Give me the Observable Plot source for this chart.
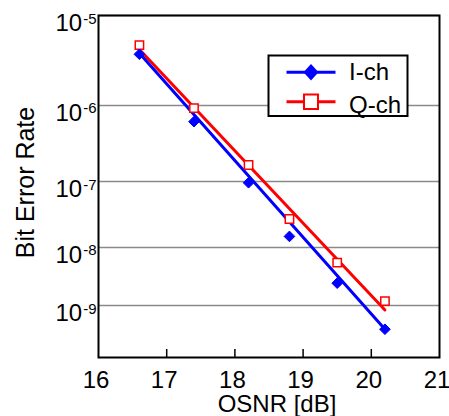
<!DOCTYPE html>
<html>
<head>
<meta charset="utf-8">
<script src="https://cdn.jsdelivr.net/npm/d3@7"></script>
<script src="https://cdn.jsdelivr.net/npm/@observablehq/plot@0.6"></script>
<style>
  html, body { margin: 0; padding: 0; background: #fff; }
  #wrap { position: relative; width: 449px; height: 416px; font-family: "Liberation Sans", Arial, sans-serif; }
  #legend { position: absolute; left: 0; top: 0; pointer-events: none; }
</style>
</head>
<body>
<div id="wrap"></div>
<script>
// ---- data ----
const osnr = [16.6, 17.4, 18.2, 18.8, 19.5, 20.2];
const berI = [3.9e-6, 6.3e-7, 9.6e-8, 1.5e-8, 2.5e-9, 3.6e-10];
const berQ = [4.9e-6, 9.3e-7, 1.7e-7, 2.8e-8, 5.6e-9, 1.2e-9];
const fitX = [16.6, 20.2];
const fitI = [4.0e-6, 3.6e-10];
const fitQ = [4.4e-6, 8.3e-10];
const xTicks = [16, 17, 18, 19, 20, 21];
const yExps = [5, 6, 7, 8, 9];
const seriesNames = ["I-ch", "Q-ch"];

// BER axis scaled as log10(-log10(BER))
const f = b => Math.log10(-Math.log10(b));

const ptsI = osnr.map((x, i) => ({x, ber: berI[i]}));
const ptsQ = osnr.map((x, i) => ({x, ber: berQ[i]}));
const lineI = fitX.map((x, i) => ({x, ber: fitI[i]}));
const lineQ = fitX.map((x, i) => ({x, ber: fitQ[i]}));

const W = 449, H = 416, mT = 15, mR = 10, mB = 59, mL = 98;
const font = '"Liberation Sans", Arial, sans-serif';

const chart = Plot.plot({
  width: W, height: H,
  marginTop: mT, marginRight: mR, marginBottom: mB, marginLeft: mL,
  style: { fontFamily: font, background: "white", color: "black" },
  x: { domain: [16, 21], axis: null },
  y: { domain: [f(1e-10), f(1e-5)], axis: null },
  marks: [
    Plot.gridY(yExps.map(e => f(Math.pow(10, -e))), { stroke: "#8a8a8a", strokeOpacity: 1, strokeWidth: 1.5 }),
    Plot.ruleX(xTicks.slice(1, -1), { stroke: "black", strokeWidth: 1.5, insetTop: (H - mT - mB) - 8 }),
    Plot.line(lineQ, { x: "x", y: d => f(d.ber), stroke: "#ff0000", strokeWidth: 3 }),
    Plot.line(lineI, { x: "x", y: d => f(d.ber), stroke: "#0000ff", strokeWidth: 3 }),
    Plot.dot(ptsQ, { x: "x", y: d => f(d.ber), symbol: "square", r: 4.7, stroke: "#ff0000", fill: "white", strokeWidth: 1.5 }),
    Plot.dot(ptsI, { x: "x", y: d => f(d.ber), symbol: "diamond2", r: 4.8, fill: "#0000ff", stroke: "#0000ff", strokeWidth: 1 }),
    Plot.frame({ stroke: "black", strokeWidth: 2 }),
    Plot.axisX(xTicks, { tickSize: 0, tickPadding: 13, fontSize: 24, dx: -2.5, label: null, tickFormat: d => String(d) }),
    Plot.text(yExps, { y: e => f(Math.pow(10, -e)), text: () => "10", frameAnchor: "left", textAnchor: "end", lineAnchor: "bottom", dx: -16.3, dy: 15.5, fontSize: 24, fill: "black" }),
    Plot.text(yExps, { y: e => f(Math.pow(10, -e)), text: e => "-" + e, frameAnchor: "left", textAnchor: "end", lineAnchor: "bottom", dx: -2, dy: 8, fontSize: 15, fill: "black" }),
    Plot.text(["OSNR [dB]"], { frameAnchor: "bottom", lineAnchor: "bottom", dx: 8, dy: 54.5, fontSize: 24, fill: "black" }),
    Plot.text(["Bit Error Rate"], { frameAnchor: "left", textAnchor: "middle", lineAnchor: "bottom", rotate: -90, dx: -65, dy: -4, fontSize: 25, fill: "black" })
  ]
});

const wrap = document.getElementById("wrap");
wrap.appendChild(chart);

// legend overlay
const ns = "http://www.w3.org/2000/svg";
const lg = document.createElementNS(ns, "svg");
lg.setAttribute("id", "legend");
lg.setAttribute("width", W);
lg.setAttribute("height", H);
function el(tag, attrs, text) {
  const e = document.createElementNS(ns, tag);
  for (const k in attrs) e.setAttribute(k, attrs[k]);
  if (text) e.textContent = text;
  lg.appendChild(e);
  return e;
}
el("rect", { x: 268.5, y: 55.5, width: 139, height: 60.5, fill: "white", stroke: "black", "stroke-width": 2 });
el("line", { x1: 286.5, x2: 335.5, y1: 72.3, y2: 72.3, stroke: "#0000ff", "stroke-width": 3 });
el("path", { d: "M311,64 L318.5,72.3 L311,80.6 L303.5,72.3 Z", fill: "#0000ff" });
el("line", { x1: 286.5, x2: 335.5, y1: 101.7, y2: 101.7, stroke: "#ff0000", "stroke-width": 3 });
el("rect", { x: 304, y: 94.5, width: 14, height: 14.5, fill: "white", stroke: "#ff0000", "stroke-width": 2 });
el("text", { x: 349, y: 79.5, "font-size": 24, "font-family": font, fill: "black" }, seriesNames[0]);
el("text", { x: 349, y: 112.5, "font-size": 24, "font-family": font, fill: "black" }, seriesNames[1]);
wrap.appendChild(lg);
</script>
</body>
</html>
